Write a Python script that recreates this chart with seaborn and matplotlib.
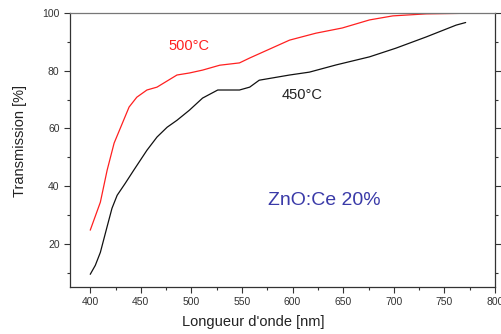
import numpy as np
import pandas as pd
import matplotlib
matplotlib.use("Agg")
import matplotlib.pyplot as plt
import seaborn as sns
from matplotlib.ticker import MultipleLocator

# courbes
nm_500 = [400, 410, 416.7, 423.6, 438.4, 446, 456, 466, 485.7, 498, 511, 528, 547.5, 557.6,
          597, 623, 649, 676, 699, 732, 771]
tr_500 = [24.7, 34.4, 45.5, 54.9, 67.4, 70.8, 73.3, 74.3, 78.5, 79.2, 80.2, 81.9, 82.7, 84.4,
          90.6, 93.0, 94.8, 97.6, 99.0, 99.7, 99.9]

nm_450 = [400, 405, 410, 416.5, 421.5, 426.6, 434.5, 443, 456, 466, 476, 485.7, 498, 511, 526,
          547.5, 557.6, 567, 597, 616.6, 643, 676, 702, 732, 761.6, 771]
tr_450 = [9.4, 12.5, 17.0, 25.7, 32.3, 36.8, 40.9, 45.5, 52.4, 57.0, 60.4, 62.8, 66.3, 70.5, 73.3,
          73.3, 74.3, 76.7, 78.5, 79.5, 82.0, 84.8, 87.8, 91.7, 95.8, 96.7]

df = pd.concat([
    pd.DataFrame({'nm': nm_500, 'T': tr_500, 'recuit': '500°C'}),
    pd.DataFrame({'nm': nm_450, 'T': tr_450, 'recuit': '450°C'}),
])

sns.set_style("ticks")
plt.rcParams['font.family'] = ['Liberation Sans', 'DejaVu Sans']

fig = plt.figure(figsize=(5.01, 3.34), dpi=100)
ax = fig.add_axes([70/501, 1 - 287/334, (495-70)/501, (287-13)/334])

sns.lineplot(data=df, x='nm', y='T', hue='recuit', palette={'500°C': '#ff2020', '450°C': '#111111'},
             estimator=None, sort=False, lw=0.9, legend=False, ax=ax)

ax.set_xlim(380, 800)
ax.set_ylim(5, 100)
ax.xaxis.set_major_locator(MultipleLocator(50))
ax.xaxis.set_minor_locator(MultipleLocator(25))
ax.set_yticks([20, 40, 60, 80, 100])
ax.yaxis.set_minor_locator(MultipleLocator(10))
ax.tick_params(which='both', right=True, direction='out', labelsize=7.5, colors='#333333',
               width=0.8)
ax.tick_params(which='major', length=4)
ax.tick_params(which='minor', length=2.5)
ax.tick_params(axis='y', which='both', right=True, labelright=False)
for s in ax.spines.values():
    s.set_color('#333333')
    s.set_linewidth(0.9)
ax.spines['top'].set_color('#777777')

ax.set_xlabel("Longueur d'onde [nm]", fontsize=10.5, color='#222222', va='center')
ax.xaxis.set_label_coords(0.432, -0.128)
ax.set_ylabel("Transmission [%]", fontsize=10.5, color='#222222', va='center')
ax.yaxis.set_label_coords(-0.118, 0.533)

ax.text(498, 88.5, '500°C', color='#ff2020', fontsize=10.5, ha='center', va='center')
ax.text(609, 71.5, '450°C', color='#222222', fontsize=10.5, ha='center', va='center')
ax.text(631, 35, 'ZnO:Ce 20%', color='#3a3aa8', fontsize=14, ha='center', va='center')

fig.savefig('out.png', dpi=100)
